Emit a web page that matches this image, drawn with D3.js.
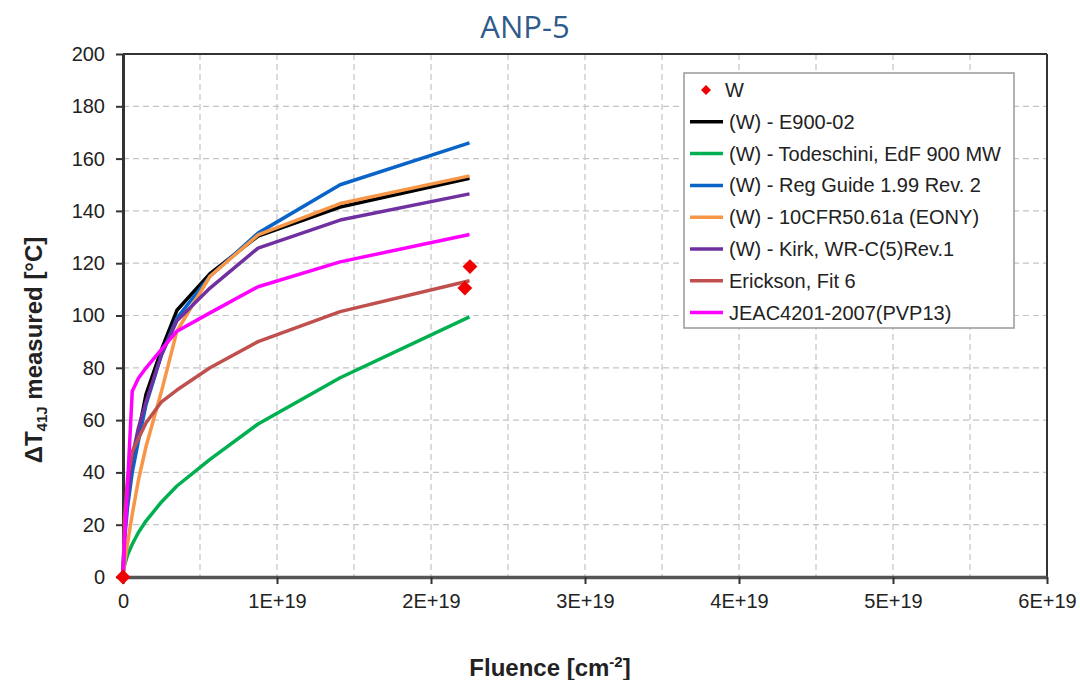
<!DOCTYPE html>
<html>
<head>
<meta charset="utf-8">
<script src="https://cdn.jsdelivr.net/npm/d3@7"></script>
<style>
  body { margin: 0; background: #fff; }
  text { font-family: "Liberation Sans", Arial, sans-serif; }
</style>
</head>
<body>
<svg id="chart" width="1080" height="680"></svg>
<script>
// fluence values (in units of 1E+19 n/cm2) at which the trend curves are drawn
var fluence = [0, 0.01, 0.03, 0.06, 0.1, 0.15, 0.25, 0.35, 0.565, 0.877, 1.41, 2.25];

// trend curves, delta T41J in degC
var e900 = [0, 20, 33, 44, 55, 70, 87, 102, 116, 130.4, 141.5, 152.5];
var todeschini = [0, 4.5, 8.5, 12.5, 17, 21.5, 28.7, 34.8, 45, 58.5, 76.2, 99.5];
var regGuide = [0, 14, 27, 40, 52, 66, 85, 99, 115, 131.5, 150, 166];
var cfr5061a = [0, 5, 13, 24, 37, 50, 71, 94, 115, 130.8, 142.8, 153.4];
var kirk = [0, 18, 30, 46, 57, 67, 85, 98, 110.5, 125.8, 136.5, 146.5];
var erickson = [0, 22, 38, 48, 53, 59, 67, 71.5, 80, 90, 101.5, 113.3];
var jeac = [0, 13, 36, 71, 76, 80, 87, 94, 101, 111, 120.5, 131];

// measured W points
var wFluence = [0, 2.22, 2.253];
var wDelta = [0, 110.5, 118.7];

var seriesNames = ["(W) - E900-02", "(W) - Todeschini, EdF 900 MW", "(W) - Reg Guide 1.99 Rev. 2",
	"(W) - 10CFR50.61a (EONY)", "(W) - Kirk, WR-C(5)Rev.1", "Erickson, Fit 6", "JEAC4201-2007(PVP13)"];
var seriesValues = [e900, todeschini, regGuide, cfr5061a, kirk, erickson, jeac];
var seriesColors = ["#000000", "#00b050", "#0a64c8", "#f79646", "#7030a0", "#c0504d", "#ff00ff"];

var xTicks = [0, 1e19, 2e19, 3e19, 4e19, 5e19, 6e19];
var yTicks = [0, 20, 40, 60, 80, 100, 120, 140, 160, 180, 200];

var margin = {top: 54, right: 33, bottom: 103, left: 123};
var width = 1080 - margin.left - margin.right,
	height = 680 - margin.top - margin.bottom;

var svg = d3.select("#chart");

svg.append("text")
	.attr("x", 525)
	.attr("y", 38)
	.attr("text-anchor", "middle")
	.style("font-family", "'Open Sans', sans-serif")
	.style("font-size", "31px")
	.style("fill", "#2f5a8c")
	.text("ANP-5");

var g = svg.append("g").attr("transform", "translate(" + margin.left + "," + margin.top + ")");

var x = d3.scaleLinear().domain([0, 6e19]).range([0, width]);
var y = d3.scaleLinear().domain([0, 200]).range([height, 0]);

// grid
g.append("g").selectAll("line")
	.data(d3.range(0.5e19, 6e19, 0.5e19))
	.enter().append("line")
	.attr("x1", function(d){ return x(d); })
	.attr("x2", function(d){ return x(d); })
	.attr("y1", 0).attr("y2", height)
	.style("stroke", "#c4c4c4").style("stroke-width", 1.2).style("stroke-dasharray", "6,4");

g.append("g").selectAll("line")
	.data(yTicks.slice(1, -1))
	.enter().append("line")
	.attr("x1", 0).attr("x2", width)
	.attr("y1", function(d){ return y(d); })
	.attr("y2", function(d){ return y(d); })
	.style("stroke", "#c4c4c4").style("stroke-width", 1.2).style("stroke-dasharray", "6,4");

// frame top / right
g.append("line").attr("x1", 0).attr("x2", width).attr("y1", 0).attr("y2", 0)
	.style("stroke", "#333").style("stroke-width", 2);
g.append("line").attr("x1", width).attr("x2", width).attr("y1", 0).attr("y2", height)
	.style("stroke", "#333").style("stroke-width", 2);

// axes
var xAxis = g.append("g")
	.attr("transform", "translate(0," + height + ")")
	.call(d3.axisBottom(x).tickValues(xTicks).tickSize(7).tickSizeOuter(0)
		.tickFormat(function(d){ return d === 0 ? "0" : (d / 1e19) + "E+19"; }));
xAxis.select(".domain").style("stroke", "#555").style("stroke-width", 3.5);
xAxis.selectAll(".tick line").style("stroke", "#333").style("stroke-width", 2);
xAxis.selectAll("text").attr("y", 17).style("font-size", "20px").style("fill", "#222")
	.style("font-family", "'Liberation Sans', Arial, sans-serif");

var yAxis = g.append("g")
	.call(d3.axisLeft(y).tickValues(yTicks).tickSize(7).tickSizeOuter(0));
yAxis.select(".domain").style("stroke", "#333").style("stroke-width", 3);
yAxis.selectAll(".tick line").style("stroke", "#333").style("stroke-width", 2);
yAxis.selectAll("text").attr("x", -18).style("font-size", "20px").style("fill", "#222")
	.style("font-family", "'Liberation Sans', Arial, sans-serif");

// curves
var line = d3.line()
	.x(function(d){ return x(d[0] * 1e19); })
	.y(function(d){ return y(d[1]); });

seriesValues.forEach(function(vals, i)
{
	var pts = fluence.map(function(f, j){ return [f, vals[j]]; });
	g.append("path")
		.datum(pts)
		.attr("d", line)
		.style("fill", "none")
		.style("stroke", seriesColors[i])
		.style("stroke-width", 3.5)
		.style("stroke-linejoin", "round");
});

// measured points
var diamond = d3.symbol().type(d3.symbolSquare).size(110);
g.selectAll(".wpt")
	.data(wFluence.map(function(f, i){ return [f, wDelta[i]]; }))
	.enter().append("path")
	.attr("class", "wpt")
	.attr("d", diamond)
	.attr("transform", function(d){ return "translate(" + x(d[0] * 1e19) + "," + y(d[1]) + ") rotate(45)"; })
	.style("fill", "#f00000");

// axis titles
var yt = svg.append("text")
	.attr("transform", "translate(42,350) rotate(-90)")
	.attr("text-anchor", "middle")
	.style("font-size", "24px")
	.style("font-weight", "bold")
	.style("fill", "#222");
yt.append("tspan").text("\u0394T");
yt.append("tspan").attr("dy", 5).style("font-size", "15px").text("41J");
yt.append("tspan").attr("dy", -5).text(" measured [\u00b0C]");

var xt = svg.append("text")
	.attr("x", 550)
	.attr("y", 676)
	.attr("text-anchor", "middle")
	.style("font-size", "24px")
	.style("font-weight", "bold")
	.style("fill", "#222");
xt.append("tspan").text("Fluence [cm");
xt.append("tspan").attr("dy", -9).style("font-size", "15px").text("-2");
xt.append("tspan").attr("dy", 9).text("]");

// legend
var legendGroup = svg.append("g").attr("transform", "translate(684,73)");
legendGroup.append("rect")
	.attr("width", 330).attr("height", 255)
	.style("fill", "#fff").style("stroke", "#999").style("stroke-width", 1.5);

var rowH = 31.8;
legendGroup.append("path")
	.attr("d", d3.symbol().type(d3.symbolSquare).size(50))
	.attr("transform", "translate(22,17) rotate(45)")
	.style("fill", "#f00000");
legendGroup.append("text")
	.attr("x", 41).attr("y", 17).attr("dy", ".35em")
	.style("font-size", "20px").style("fill", "#222")
	.text("W");

var legend = legendGroup.selectAll(".legend")
	.data(seriesNames)
	.enter()
	.append("g")
	.attr("class", "legend")
	.attr("transform", function(d, i) { return "translate(0," + (17 + (i + 1) * rowH) + ")"; });

legend.append("line")
	.attr("x1", 6).attr("x2", 39)
	.style("stroke", function(d, i){ return seriesColors[i]; })
	.style("stroke-width", 3.5);

legend.append("text")
	.attr("x", 45)
	.attr("dy", ".35em")
	.style("font-size", "20px")
	.style("fill", "#222")
	.text(function(d) { return d; });
</script>
</body>
</html>
